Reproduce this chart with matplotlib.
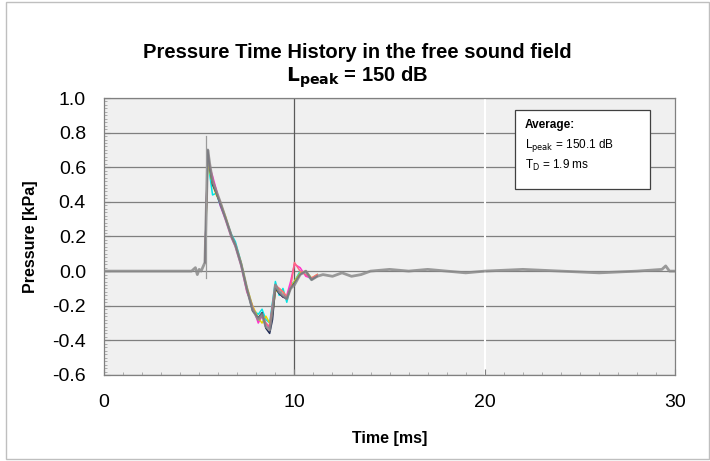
import matplotlib
matplotlib.use("Agg")
import matplotlib.pyplot as plt
from matplotlib.patches import Rectangle
from matplotlib.ticker import MultipleLocator

plt.rcParams['font.family'] = ['Liberation Sans', 'DejaVu Sans']

# main (gray) trace
t_main = [0, 4.6, 4.8, 4.9, 5.0, 5.1, 5.3, 5.45, 5.55, 5.7, 5.9, 6.1, 6.4, 6.7, 6.9,
          7.2, 7.5, 7.8, 8.1, 8.3, 8.5, 8.7, 8.85, 9.0, 9.2, 9.4, 9.6, 9.8, 10.0,
          10.3, 10.6, 10.9, 11.2, 11.5, 12.0, 12.5, 13.0, 13.5, 14.0, 15, 16, 17,
          18, 19, 20, 22, 24, 26, 28, 29.3, 29.5, 29.7, 30]
p_main = [0, 0, 0.02, -0.02, 0.01, 0, 0.05, 0.70, 0.62, 0.52, 0.46, 0.40, 0.30, 0.20,
          0.15, 0.04, -0.10, -0.22, -0.28, -0.25, -0.32, -0.34, -0.22, -0.08, -0.12,
          -0.14, -0.16, -0.10, -0.08, -0.02, 0.00, -0.05, -0.03, -0.02, -0.03, -0.01,
          -0.03, -0.02, 0.00, 0.01, 0.00, 0.01, 0.00, -0.01, 0.00, 0.01, 0.00, -0.01,
          0.00, 0.01, 0.03, 0.00, 0.00]

# coloured individual traces
t_ind = [5.3, 5.45, 5.55, 5.7, 5.9, 6.1, 6.4, 6.7, 6.9, 7.2, 7.5, 7.8, 8.1, 8.3, 8.5,
         8.7, 8.85, 9.0, 9.2, 9.4, 9.6, 9.8, 10.0, 10.3, 10.6, 10.9, 11.2]
p_cyan = [0.05, 0.66, 0.56, 0.44, 0.45, 0.38, 0.30, 0.21, 0.17, 0.05, -0.10, -0.22, -0.25,
          -0.22, -0.28, -0.30, -0.18, -0.06, -0.14, -0.10, -0.18, -0.08, -0.06, 0.00, -0.02,
          -0.05, -0.02]
p_magenta = [0.05, 0.68, 0.60, 0.55, 0.47, 0.38, 0.29, 0.19, 0.14, 0.03, -0.12, -0.20, -0.30,
             -0.26, -0.30, -0.33, -0.20, -0.10, -0.12, -0.15, -0.14, -0.06, 0.04, 0.02, -0.03,
             -0.04, -0.03]
p_yellow = [0.05, 0.64, 0.58, 0.50, 0.44, 0.40, 0.31, 0.20, 0.15, 0.05, -0.09, -0.20, -0.27,
            -0.30, -0.26, -0.30, -0.25, -0.12, -0.10, -0.12, -0.15, -0.10, -0.06, -0.01, 0.00,
            -0.04, -0.02]
p_navy = [0.05, 0.70, 0.60, 0.50, 0.45, 0.39, 0.30, 0.20, 0.15, 0.04, -0.10, -0.23, -0.27,
          -0.24, -0.33, -0.36, -0.28, -0.10, -0.13, -0.15, -0.16, -0.10, -0.07, -0.02, 0.00,
          -0.05, -0.03]
p_red = [0.05, 0.69, 0.61, 0.53, 0.46, 0.40, 0.30, 0.20, 0.15, 0.04, -0.11, -0.21, -0.28,
         -0.25, -0.30, -0.32, -0.20, -0.08, -0.10, -0.12, -0.15, -0.10, 0.05, 0.00, -0.02,
         -0.04, -0.02]

peak_marker_t = 5.37
peak_marker_y = [-0.04, 0.78]

x_ticks = [0, 10, 20, 30]
y_ticks = [-0.6, -0.4, -0.2, 0.0, 0.2, 0.4, 0.6, 0.8, 1.0]

fig = plt.figure(figsize=(7.10, 4.61), dpi=100)
fig.patch.set_facecolor('white')
fig.add_artist(Rectangle((0.008, 0.005), 0.99, 0.99, transform=fig.transFigure,
                         fill=False, edgecolor='#bfbfbf', linewidth=1.0))

ax = fig.add_axes([0.1465, 0.1866, 0.8045, 0.6008])
ax.set_facecolor('#f0f0f0')
ax.set_xlim(0, 30)
ax.set_ylim(-0.6, 1.0)

for y in y_ticks:
    ax.axhline(y, color='#7f7f7f', linewidth=0.9, zorder=1)
ax.axvline(10, color='#5a5a5a', linewidth=0.9, zorder=1)
ax.axvline(20, color='white', linewidth=1.5, zorder=1)

for p, c in [(p_cyan, '#00e5e5'), (p_magenta, '#ff33cc'), (p_yellow, '#e6d200'),
             (p_red, '#ff6680'), (p_navy, '#1f2a55')]:
    ax.plot(t_ind, p, color=c, linewidth=1.1, zorder=2)
ax.plot(t_main, p_main, color='#8a8a8a', linewidth=2.0, alpha=0.85, zorder=3)
ax.plot([peak_marker_t, peak_marker_t], peak_marker_y, color='#9a9a9a', linewidth=0.9, zorder=3)

ax.set_xticks(x_ticks)
ax.set_yticks(y_ticks)
ax.set_yticklabels([f"{v:.1f}" for v in y_ticks])
ax.xaxis.set_minor_locator(MultipleLocator(1))
ax.yaxis.set_minor_locator(MultipleLocator(0.02))
ax.tick_params(axis='both', which='major', labelsize=14, direction='in', length=4,
               color='#808080')
ax.tick_params(axis='x', which='major', pad=14)
ax.tick_params(axis='y', which='major', pad=13)
ax.tick_params(axis='both', which='minor', direction='in', length=2, color='#a0a0a0')
for s in ax.spines.values():
    s.set_color('#808080')
    s.set_linewidth(0.9)

ax.set_xlabel('Time [ms]', fontsize=11.5, fontweight='bold', labelpad=14)
ax.set_ylabel('Pressure [kPa]', fontsize=11.5, fontweight='bold', labelpad=10)

fig.text(0.503, 0.887, 'Pressure Time History in the free sound field', ha='center',
         va='center', fontsize=14.5, fontweight='bold')
fig.text(0.503, 0.833, r'$\mathbf{L_{peak}}$ = 150 dB', ha='center', va='center',
         fontsize=14.5, fontweight='bold')

ax.text(0.737, 0.925,
        'Average:', transform=ax.transAxes, fontsize=8.5, fontweight='bold', va='top')
ax.text(0.737, 0.858,
        r'L$_{\mathrm{peak}}$ = 150.1 dB' + '\n' + r'T$_{\mathrm{D}}$ = 1.9 ms',
        transform=ax.transAxes, fontsize=8.5, va='top', linespacing=1.3)
ax.add_patch(Rectangle((0.72, 0.67), 0.235, 0.285, transform=ax.transAxes,
                       facecolor='white', edgecolor='#404040', linewidth=0.9, zorder=4))
for t in ax.texts:
    t.set_zorder(5)

fig.savefig('out.png', dpi=100)
